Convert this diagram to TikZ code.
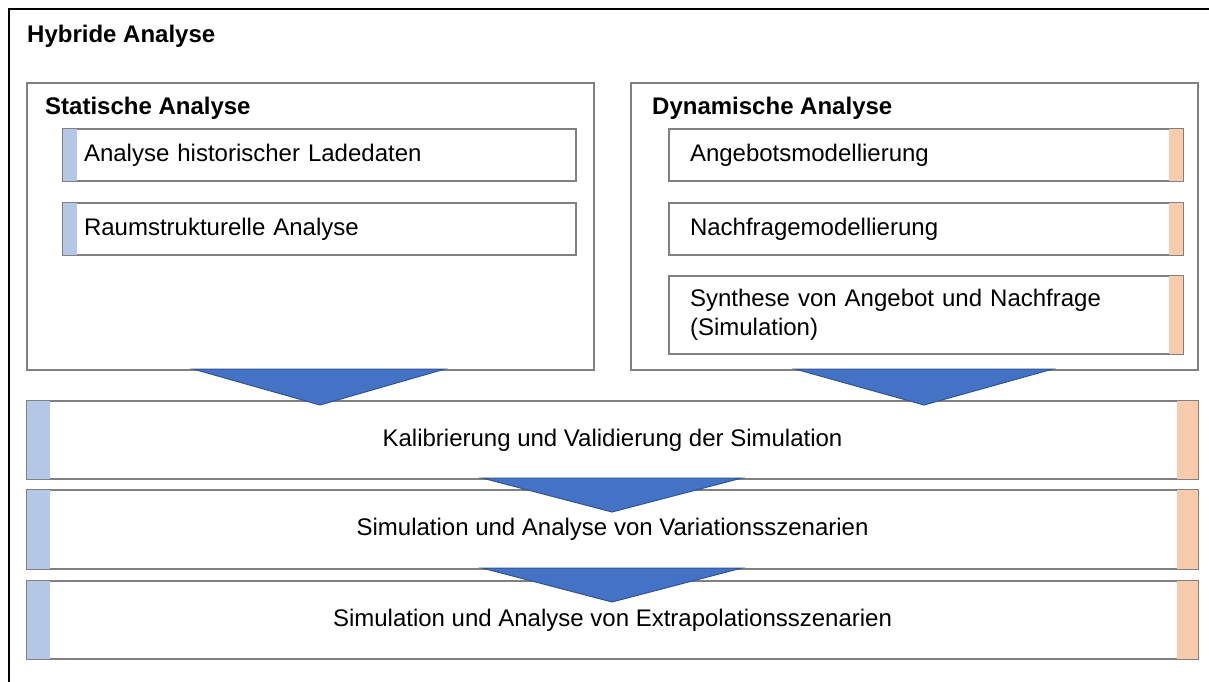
\documentclass[tikz,border=0pt]{standalone}
\usepackage{fontspec}
\setmainfont{Liberation Sans}
\definecolor{boxgray}{HTML}{808080}
\definecolor{barblue}{HTML}{B4C7E7}
\definecolor{barorange}{HTML}{F8CBAD}
\definecolor{arrowfill}{HTML}{4472C4}
\definecolor{arrowline}{HTML}{2F5597}
\begin{document}
\begin{tikzpicture}[x=1pt,y=-1pt,
  every node/.style={font=\fontsize{24pt}{28.5pt}\selectfont},
  frame/.style={draw=boxgray,line width=2pt,fill=white,anchor=north west,inner sep=0pt},
  itembox/.style={draw=boxgray,line width=2pt,fill=white,anchor=north west,
     inner xsep=21pt,inner ysep=0pt,text width=#1,align=left,minimum height=52pt},
  widebox/.style={draw=boxgray,line width=2pt,fill=white,anchor=north west,
     minimum width=1171pt,align=center,inner sep=0pt},
  heading/.style={anchor=base west,inner sep=0pt,font=\fontsize{24pt}{28.5pt}\selectfont\bfseries},
  chevron/.style={fill=arrowfill,draw=arrowline,line width=1pt,line join=miter}
]
\useasboundingbox (0,0) rectangle (1209,682);
\fill[white] (0,0) rectangle (1209,682);
% outer frame (open to the right and bottom)
\draw[black,line width=1.5pt] (9,682) -- (9,9) -- (1209,9);
\node[heading] (hyb) at (27,43) {Hybride Analyse};

% static analysis
\node[frame,minimum width=567pt,minimum height=287pt] (stat) at (26,82) {};
\node[heading] (stath) at (45,114) {Statische Analyse};
\node[itembox=471pt] (s1) at (62,128) {Analyse historischer Ladedaten};
\node[itembox=471pt] (s2) at (62,202) {Raumstrukturelle Analyse};
\foreach \n in {s1,s2}{
  \fill[barblue] ([shift={(1pt,-1pt)}]\n.north west) rectangle ([shift={(15pt,1pt)}]\n.south west);
}

% dynamic analysis
\node[frame,minimum width=567pt,minimum height=287pt] (dyn) at (630,82) {};
\node[heading] (dynh) at (652,114) {Dynamische Analyse};
\node[itembox=472pt] (d1) at (668,128) {Angebotsmodellierung};
\node[itembox=472pt] (d2) at (668,202) {Nachfragemodellierung};
\node[itembox=472pt,minimum height=78pt] (d3) at (668,275) {Synthese von Angebot und Nachfrage\\(Simulation)};
\foreach \n in {d1,d2,d3}{
  \fill[barorange] ([shift={(-15pt,-1pt)}]\n.north east) rectangle ([shift={(-1pt,1pt)}]\n.south east);
}

% wide boxes
\node[widebox,minimum height=78pt] (w1) at (26,400) {\raisebox{-2pt}{Kalibrierung und Validierung der Simulation}};
\node[widebox,minimum height=79pt] (w2) at (26,489) {Simulation und Analyse von Variationsszenarien};
\node[widebox,minimum height=78pt] (w3) at (26,580) {\raisebox{-2pt}{Simulation und Analyse von Extrapolationsszenarien}};
\foreach \n in {w1,w2,w3}{
  \fill[barblue] ([shift={(1pt,-1pt)}]\n.north west) rectangle ([shift={(24pt,1pt)}]\n.south west);
  \fill[barorange] ([shift={(-22pt,-1pt)}]\n.north east) rectangle ([shift={(-1pt,1pt)}]\n.south east);
}

% chevrons
\draw[chevron] (193,369) -- (445,369) -- (320,405) -- cycle;
\draw[chevron] (795,369) -- (1053,369) -- (924,405) -- cycle;
\draw[chevron] (482,478) -- (742,478) -- (612,512) -- cycle;
\draw[chevron] (482,568) -- (742,568) -- (612,602) -- cycle;
\end{tikzpicture}
\end{document}
